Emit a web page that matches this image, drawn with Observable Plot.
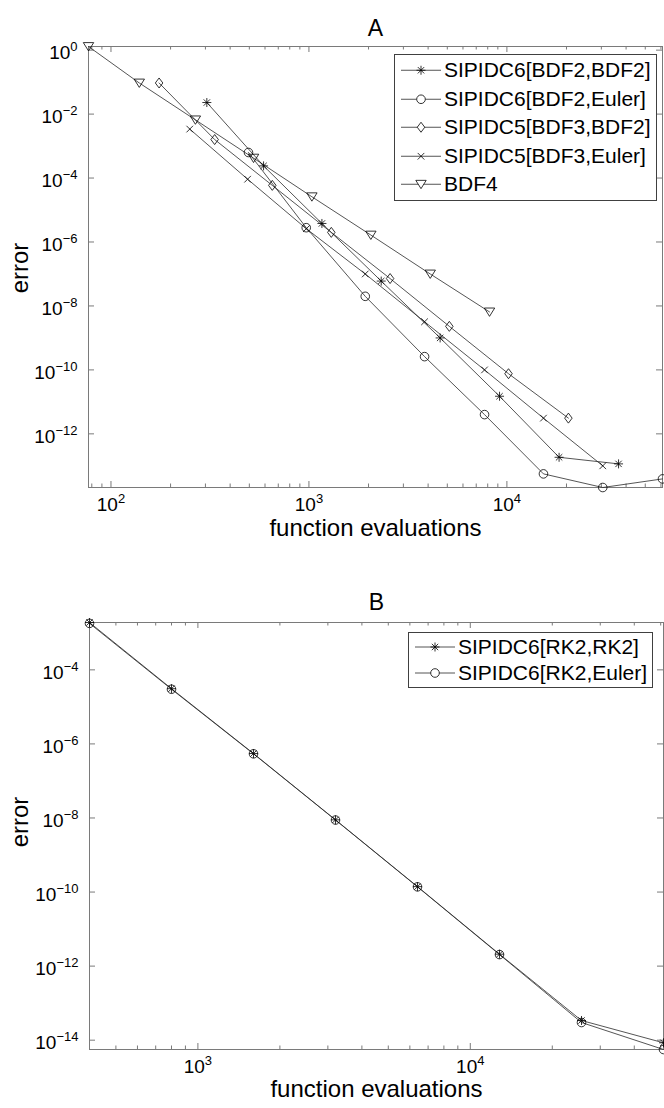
<!DOCTYPE html>
<html><head><meta charset="utf-8">
<script src="https://cdn.jsdelivr.net/npm/d3@7"></script>
<script src="https://cdn.jsdelivr.net/npm/@observablehq/plot@0.6"></script>
<style>
html,body{margin:0;padding:0;background:#fff;}
#chart{position:relative;width:664px;height:1108px;overflow:hidden;font-family:"Liberation Sans",Arial,sans-serif;}
#chart svg{display:block;}
.legend{position:absolute;border:1px solid #404040;background:#fff;padding:1px 5px 1px 5px;}
.legend .row{display:flex;align-items:center;}
.legend .row span{font-size:21px;color:#000;margin-left:2px;white-space:nowrap;}
.ylab{position:absolute;font-size:24px;color:#000;white-space:nowrap;transform:translate(-50%,-50%) rotate(-90deg);line-height:1;}
</style></head><body><div id="chart"></div>
<script>
// ---------- Panel A data ----------
const namesA = ["SIPIDC6[BDF2,BDF2]", "SIPIDC6[BDF2,Euler]", "SIPIDC5[BDF3,BDF2]", "SIPIDC5[BDF3,Euler]", "BDF4"];
const evalsA_s6bb = [305, 590, 1163, 2318, 4600, 9180, 18350, 36650];
const errA_s6bb   = [2.3e-2, 2.4e-4, 3.8e-6, 6.0e-8, 1.0e-9, 1.5e-11, 1.85e-13, 1.15e-13];
const evalsA_s6be = [495, 969, 1925, 3838, 7710, 15300, 30500, 61100];
const errA_s6be   = [6.3e-4, 2.8e-6, 2.0e-8, 2.6e-10, 4.0e-12, 5.6e-14, 2.1e-14, 3.9e-14];
const evalsA_s5bb = [175, 334, 653, 1297, 2570, 5120, 10190, 20450];
const errA_s5bb   = [9.4e-2, 1.6e-3, 5.9e-5, 2.0e-6, 7.2e-8, 2.3e-9, 7.6e-11, 3.1e-12];
const evalsA_s5be = [250, 490, 970, 1925, 3838, 7710, 15300, 30500];
const errA_s5be   = [3.4e-3, 9.2e-5, 2.6e-6, 1.0e-7, 3.2e-9, 1.0e-10, 3.1e-12, 1.0e-13];
const evalsA_bdf4 = [77, 139, 267, 525, 1035, 2055, 4100, 8170];
const errA_bdf4   = [1.3, 9.4e-2, 6.6e-3, 4.2e-4, 2.6e-5, 1.65e-6, 1.0e-7, 6.5e-9];
const xMajorA = [100, 1000, 10000];
const xMinorA = [80, 90, 200, 300, 400, 500, 600, 700, 800, 900, 2000, 3000, 4000, 5000, 6000, 7000, 8000, 9000, 20000, 30000, 40000, 50000, 60000];
const yMajorA = [1, 1e-2, 1e-4, 1e-6, 1e-8, 1e-10, 1e-12];

// ---------- Panel B data ----------
const namesB = ["SIPIDC6[RK2,RK2]", "SIPIDC6[RK2,Euler]"];
const evalsB = [400, 800, 1600, 3200, 6400, 12800, 25600, 51200];
const errB_rk2rk2   = [1.9e-3, 3.1e-5, 5.5e-7, 8.9e-9, 1.4e-10, 2.1e-12, 3.4e-14, 8.5e-15];
const errB_rk2euler = [1.8e-3, 3.0e-5, 5.4e-7, 8.8e-9, 1.38e-10, 2.05e-12, 3.0e-14, 5.6e-15];
const xMajorB = [1000, 10000];
const xMinorB = [400, 500, 600, 700, 800, 900, 2000, 3000, 4000, 5000, 6000, 7000, 8000, 9000, 20000, 30000, 40000, 50000];
const yMajorB = [1e-4, 1e-6, 1e-8, 1e-10, 1e-12, 1e-14];

// ---------- marker symbols (MATLAB-like) ----------
const R = size => Math.sqrt(size / Math.PI);
const symbols = {
  asterisk: {draw(c, s){ const r = R(s), d = r*0.7071;
    c.moveTo(0,-r); c.lineTo(0,r); c.moveTo(-r,0); c.lineTo(r,0);
    c.moveTo(-d,-d); c.lineTo(d,d); c.moveTo(-d,d); c.lineTo(d,-d); }},
  circle: {draw(c, s){ const r = R(s); c.moveTo(r,0); c.arc(0,0,r,0,2*Math.PI); c.closePath(); }},
  diamond: {draw(c, s){ const r = R(s); c.moveTo(0,-r); c.lineTo(0.75*r,0); c.lineTo(0,r); c.lineTo(-0.75*r,0); c.closePath(); }},
  times: {draw(c, s){ const r = R(s); c.moveTo(-r,-r); c.lineTo(r,r); c.moveTo(-r,r); c.lineTo(r,-r); }},
  triDown: {draw(c, s){ const r = R(s); c.moveTo(-r,-0.75*r); c.lineTo(r,-0.75*r); c.lineTo(0,0.85*r); c.closePath(); }}
};
const symR = {asterisk: 4.5, circle: 4.3, diamond: 5, times: 3.3, triDown: 5.2};

const seriesA = [
  {name: namesA[0], sym: "asterisk", x: evalsA_s6bb, y: errA_s6bb},
  {name: namesA[1], sym: "circle",   x: evalsA_s6be, y: errA_s6be},
  {name: namesA[2], sym: "diamond",  x: evalsA_s5bb, y: errA_s5bb},
  {name: namesA[3], sym: "times",    x: evalsA_s5be, y: errA_s5be},
  {name: namesA[4], sym: "triDown",  x: evalsA_bdf4, y: errA_bdf4}
];
const seriesB = [
  {name: namesB[0], sym: "asterisk", x: evalsB, y: errB_rk2rk2},
  {name: namesB[1], sym: "circle",   x: evalsB, y: errB_rk2euler}
];

const AX = "#7a7a7a";
const FONT = '"Liberation Sans", Arial, sans-serif';
const expLabel = d => "10^" + String(Math.round(Math.log10(d))).replace("-", "\u2212");

function panel({series, title, xMajor, xMinor, yMajor, height, margins, titleDy, labelDy}) {
  const width = 664;
  const [mt, mr, mb, ml] = margins;
  const fh = height - mt - mb, fw = width - ml - mr;
  const rows = series.flatMap(s => s.x.map((x, i) => ({series: s.name, x, y: s.y[i]})));
  const marks = [
    Plot.frame({stroke: AX, strokeWidth: 1}),
    Plot.ruleX(xMajor, {x: d => d, insetTop: fh - 6, stroke: AX}),
    Plot.ruleX(xMajor, {x: d => d, insetBottom: fh - 6, stroke: AX}),
    Plot.ruleX(xMinor, {x: d => d, insetTop: fh - 3.5, stroke: AX}),
    Plot.ruleX(xMinor, {x: d => d, insetBottom: fh - 3.5, stroke: AX}),
    Plot.ruleY(yMajor, {y: d => d, insetRight: fw - 6, stroke: AX}),
    Plot.ruleY(yMajor, {y: d => d, insetLeft: fw - 6, stroke: AX}),
    Plot.text(xMajor, {x: d => d, frameAnchor: "bottom", dy: 23, text: expLabel, fontSize: 19, textAnchor: "middle"}),
    Plot.text(yMajor, {y: d => d, frameAnchor: "left", dx: -11, dy: 3, text: expLabel, fontSize: 19, textAnchor: "end"}),
    Plot.text([title], {frameAnchor: "top", dy: titleDy, text: d => d, fontSize: 23}),
    Plot.text(["function evaluations"], {frameAnchor: "bottom", dy: labelDy, text: d => d, fontSize: 24})
  ];
  for (const s of series) {
    const data = rows.filter(r => r.series === s.name);
    marks.push(Plot.line(data, {x: "x", y: "y", stroke: "#2a2a2a", strokeWidth: 0.8}));
  }
  for (const s of series) {
    const data = rows.filter(r => r.series === s.name);
    marks.push(Plot.dot(data, {x: "x", y: "y", symbol: symbols[s.sym], r: symR[s.sym], stroke: "#000", strokeWidth: 0.8, fill: "none"}));
  }
  const svg = Plot.plot({
    width, height,
    marginTop: mt, marginRight: mr, marginBottom: mb, marginLeft: ml,
    x: {type: "log", domain: d3.extent(rows, d => d.x), axis: null},
    y: {type: "log", domain: d3.extent(rows, d => d.y), axis: null},
    style: {fontFamily: FONT, background: "#fff", color: "#000", overflow: "visible"},
    marks
  });
  // turn "10^e" into 10 with a superscript exponent
  svg.querySelectorAll("text").forEach(t => {
    const s = t.textContent;
    if (!s.includes("^")) return;
    const [base, exp] = s.split("^");
    while (t.firstChild) t.removeChild(t.firstChild);
    t.appendChild(document.createTextNode(base));
    const ts = document.createElementNS("http://www.w3.org/2000/svg", "tspan");
    ts.setAttribute("dy", "-8");
    ts.setAttribute("font-size", "13");
    ts.textContent = exp;
    t.appendChild(ts);
  });
  return svg;
}

const chart = document.getElementById("chart");
chart.appendChild(panel({series: seriesA, title: "A", xMajor: xMajorA, xMinor: xMinorA, yMajor: yMajorA,
  height: 555, margins: [46, 2, 68, 88], titleDy: -27, labelDy: 48}));
chart.appendChild(panel({series: seriesB, title: "B", xMajor: xMajorB, xMinor: xMinorB, yMajor: yMajorB,
  height: 553, margins: [67, 1, 59, 89], titleDy: -29, labelDy: 47}));

// y-axis titles
function ylabel(text, cx, cy) {
  const d = document.createElement("div");
  d.className = "ylab";
  d.textContent = text;
  d.style.left = cx + "px";
  d.style.top = cy + "px";
  chart.appendChild(d);
}
ylabel("error", 20, 268);
ylabel("error", 20, 822);

// ---------- legends ----------
function legend(series, left, top, rowH) {
  const div = document.createElement("div");
  div.className = "legend";
  div.style.left = left + "px";
  div.style.top = top + "px";
  for (const s of series) {
    const row = document.createElement("div");
    row.className = "row";
    row.style.height = rowH + "px";
    const svg = d3.create("svg").attr("width", 42).attr("height", rowH);
    const cy = rowH / 2;
    svg.append("line").attr("x1", 1).attr("x2", 41).attr("y1", cy).attr("y2", cy).attr("stroke", "#2a2a2a").attr("stroke-width", 0.8);
    const r = symR[s.sym];
    svg.append("path").attr("transform", `translate(21,${cy})`)
      .attr("d", d3.symbol(symbols[s.sym], r * r * Math.PI)())
      .attr("fill", "#fff").attr("stroke", "#000").attr("stroke-width", 0.8);
    row.appendChild(svg.node());
    const span = document.createElement("span");
    span.textContent = s.name;
    row.appendChild(span);
    div.appendChild(row);
  }
  chart.appendChild(div);
}
legend(seriesA, 394, 54, 28.5);
legend(seriesB, 408, 632, 26);
</script></body></html>
